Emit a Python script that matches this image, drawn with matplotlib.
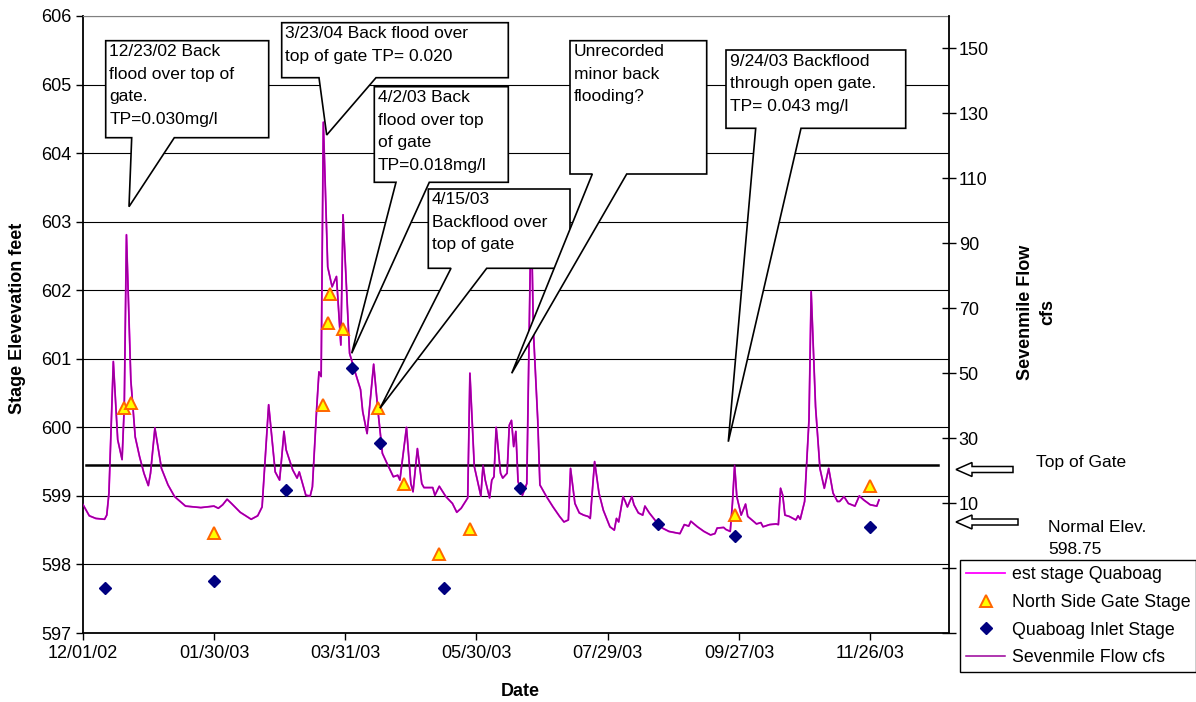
import pandas as pd
import matplotlib
matplotlib.use("Agg")
import matplotlib.pyplot as plt
import matplotlib.dates as mdates
from matplotlib.patches import Polygon

plt.rcParams['font.family'] = ['Liberation Sans', 'DejaVu Sans']

W, H = 1196, 702
start = pd.Timestamp('2002-12-01')

# days after 12/01/02 for the daily series
stage_days = [0, 3, 6, 10, 11, 12, 14, 16, 18, 19, 20, 22, 24, 26, 28, 30, 31, 33, 36, 39,
              42, 47, 54, 60, 62, 64, 66, 68, 72, 77, 80, 82, 83, 85, 88, 90, 91, 92, 93, 96,
              98, 99, 102, 104, 105, 107, 108, 109, 110, 112, 114, 116, 118, 119, 122, 124, 127, 128, 130, 133,
              135, 137, 139, 142, 144, 145, 148, 150, 151, 153, 155, 156, 160, 161, 163, 166, 169, 171, 173, 176,
              177, 179, 182, 183, 184, 186, 187, 188, 189, 191, 192, 194, 195, 196, 197, 198, 199, 200, 201, 203,
              205, 206, 208, 209, 212, 215, 218, 220, 222, 223, 225, 227, 229, 231, 232, 234, 236, 238, 241, 243,
              244, 245, 247, 248, 249, 251, 252, 254, 256, 257, 259, 261, 263, 265, 268, 273, 275, 277, 278, 281,
              284, 287, 289, 290, 293, 294, 296, 297, 298, 299, 301, 303, 304, 307, 308, 310, 311, 314, 317, 318,
              319, 320, 321, 323, 326, 327, 328, 330, 332, 333, 335, 337, 339, 341, 343, 345, 346, 348, 350, 353,
              355, 357, 360, 363, 364]

# est stage Quaboag (ft)
stage_ft = [598.88, 598.71, 598.67, 598.66, 598.72, 599.04, 600.96, 599.82, 599.53, 600.30,
            602.81, 600.69, 599.86, 599.57, 599.33, 599.15, 599.33, 599.99, 599.40, 599.16,
            598.99, 598.85, 598.83, 598.85, 598.82, 598.87, 598.95, 598.89, 598.76, 598.66,
            598.71, 598.84, 599.33, 600.33, 599.35, 599.23, 599.57, 599.94, 599.67, 599.38,
            599.26, 599.35, 599.01, 599.00, 599.13, 600.30, 600.81, 600.74, 604.45, 602.34,
            602.05, 602.20, 601.20, 603.10, 601.08, 600.86, 600.55, 600.23, 599.91, 600.92,
            600.23, 599.62, 599.48, 599.28, 599.30, 599.23, 600.00, 599.18, 599.06, 599.69,
            599.18, 599.12, 599.12, 599.01, 599.14, 598.99, 598.89, 598.76, 598.82, 598.97,
            600.79, 599.43, 599.00, 599.45, 599.23, 598.97, 599.23, 599.28, 600.00, 599.33,
            599.26, 599.33, 600.03, 600.10, 599.72, 599.94, 599.21, 599.11, 599.01, 599.18,
            603.20, 601.42, 600.11, 599.16, 598.99, 598.84, 598.70, 598.62, 598.65, 599.40,
            598.89, 598.75, 598.72, 598.70, 598.67, 599.50, 599.04, 598.79, 598.55, 598.50,
            598.67, 598.62, 598.99, 598.92, 598.84, 598.99, 598.87, 598.75, 598.72, 598.85,
            598.75, 598.67, 598.59, 598.53, 598.48, 598.45, 598.58, 598.56, 598.63, 598.55,
            598.48, 598.43, 598.45, 598.53, 598.54, 598.51, 598.48, 598.89, 599.45, 598.99,
            598.72, 598.88, 598.70, 598.62, 598.59, 598.61, 598.55, 598.58, 598.59, 598.58,
            599.11, 599.01, 598.72, 598.70, 598.65, 598.71, 598.66, 598.92, 600.11, 601.98,
            600.30, 599.40, 599.11, 599.40, 599.04, 598.92, 598.92, 598.99, 598.89, 598.85,
            599.00, 598.94, 598.87, 598.85, 598.94]

# Sevenmile Flow (cfs)
flow_cfs = [9.7, 6.1, 5.3, 5.0, 6.3, 13.1, 53.6, 29.5, 23.4, 39.7,
            92.6, 47.9, 30.4, 24.3, 19.2, 15.4, 19.2, 33.1, 20.7, 15.6,
            12.0, 9.1, 8.6, 9.1, 8.4, 9.5, 11.2, 9.9, 7.2, 5.0,
            6.1, 8.8, 19.2, 40.3, 19.6, 17.1, 24.3, 32.1, 26.4, 20.2,
            17.7, 19.6, 12.4, 12.2, 15.0, 39.7, 50.4, 49.0, 127.3, 82.7,
            76.6, 79.8, 58.7, 98.8, 56.1, 51.5, 45.0, 38.2, 31.4, 52.8,
            38.2, 25.3, 22.4, 18.1, 18.6, 17.1, 33.3, 16.0, 13.5, 26.8,
            16.0, 14.8, 14.8, 12.4, 15.2, 12.0, 9.9, 7.2, 8.4, 11.6,
            50.0, 21.3, 12.2, 21.7, 17.1, 11.6, 17.1, 18.1, 33.3, 19.2,
            17.7, 19.2, 34.0, 35.5, 27.4, 32.1, 16.7, 14.6, 12.4, 16.0,
            100.9, 63.3, 35.7, 15.6, 12.0, 8.8, 5.9, 4.2, 4.8, 20.7,
            9.9, 7.0, 6.3, 5.9, 5.3, 22.8, 13.1, 7.8, 2.7, 1.7,
            5.3, 4.2, 12.0, 10.5, 8.8, 12.0, 9.5, 7.0, 6.3, 9.1,
            7.0, 5.3, 3.6, 2.3, 1.3, 0.6, 3.4, 2.9, 4.4, 2.7,
            1.3, 0.2, 0.6, 2.3, 2.5, 1.9, 1.3, 9.9, 21.7, 12.0,
            6.3, 9.7, 5.9, 4.2, 3.6, 4.0, 2.7, 3.4, 3.6, 3.4,
            14.6, 12.4, 6.3, 5.9, 4.8, 6.1, 5.0, 10.5, 35.7, 75.1,
            39.7, 20.7, 14.6, 20.7, 13.1, 10.5, 10.5, 12.0, 9.9, 9.1,
            12.2, 11.0, 9.5, 9.1, 11.0]

# North Side Gate Stage (ft)
gate_days = [19, 22, 60, 110, 112, 113, 119, 135, 147, 163, 177, 298, 360]
gate_ft = [600.28, 600.35, 598.46, 600.33, 601.52, 601.95, 601.43, 600.28, 599.18,
           598.15, 598.51, 598.72, 599.14]

# Quaboag Inlet Stage (ft)
inlet_days = [10, 60, 93, 123, 136, 165, 200, 263, 298, 360]
inlet_ft = [597.66, 597.76, 599.08, 600.86, 599.77, 597.66, 599.11, 598.59, 598.41, 598.55]

top_of_gate = 599.45

flow_ticks = [-30, -10, 10, 30, 50, 70, 90, 110, 130, 150]
flow_tick_labels = ['', '', '10', '30', '50', '70', '90', '110', '130', '150']
date_ticks = [0, 60, 120, 180, 240, 300, 360]

callouts = [
    ((105.7, 40.7, 268.7, 137.7), (131.7, 174.3), (129, 206.7),
     ["12/23/02 Back", "flood over top of", "gate.", "TP=0.030mg/l"]),
    ((281.7, 22.7, 508.3, 77.7), (319, 376), (326.7, 135),
     ["3/23/04 Back flood over", "top of gate TP= 0.020"]),
    ((374.3, 86.7, 508.3, 182.3), (396, 429.3), (351.7, 353.3),
     ["4/2/03 Back", "flood over top", "of gate", "TP=0.018mg/l"]),
    ((428.3, 189, 570, 268.3), (451, 486.7), (380, 408.3),
     ["4/15/03", "Backflood over", "top of gate"]),
    ((570, 40.7, 706.7, 174), (592.3, 626.7), (511.7, 373.3),
     ["Unrecorded", "minor back", "flooding?"]),
    ((726, 50, 905.7, 128.3), (755.7, 801), (728.3, 441.7),
     ["9/24/03 Backflood", "through open gate.", "TP= 0.043 mg/l"]),
]


def px(x, y):
    return (x / W, 1 - y / H)


def to_dates(days):
    return start + pd.to_timedelta(days, unit='D')


fig = plt.figure(figsize=(W / 100, H / 100), dpi=100)
ax = fig.add_axes([82.7 / W, 1 - 633 / H, (949 - 82.7) / W, (633 - 16) / H])
ax2 = ax.twinx()

pink, = ax.plot(to_dates(stage_days), stage_ft, color='#FF00FF', lw=1.3,
                label='est stage Quaboag')
ax.axhline(top_of_gate, xmin=3.5 / 866, xmax=855 / 866, color='black', lw=1.8, zorder=3)

purple, = ax2.plot(to_dates(stage_days), flow_cfs, color='#9A009A', lw=1.1,
                   label='Sevenmile Flow cfs')
tri, = ax2.plot(to_dates(gate_days), gate_ft, ls='none', marker='^', ms=8,
                mfc='#FFFF00', mec='#FF6600', mew=1.4, transform=ax.transData,
                label='North Side Gate Stage', zorder=4)
dia, = ax2.plot(to_dates(inlet_days), inlet_ft, ls='none', marker='D', ms=6.5,
                mfc='#000080', mec='#000080', transform=ax.transData,
                label='Quaboag Inlet Stage', zorder=4)

ax.set_xlim(start, pd.Timestamp('2004-01-01'))
ax.set_ylim(597, 606)
ax.set_yticks(range(597, 607))
ax.set_xticks(to_dates(date_ticks))
ax.xaxis.set_major_formatter(mdates.DateFormatter('%m/%d/%y'))
ax.grid(axis='y', color='black', lw=0.8)
ax.tick_params(axis='y', direction='out', length=5, width=1, labelsize=13, pad=3)
ax.tick_params(axis='x', direction='out', length=5, width=1, labelsize=13, pad=4)

ax2.set_ylim(-30, 160)
ax2.set_yticks(flow_ticks)
ax2.set_yticklabels(flow_tick_labels)
ax2.tick_params(axis='y', direction='inout', length=10, width=1, labelsize=13, pad=2)

ax.spines['top'].set_color('#808080')
ax.spines['right'].set_visible(False)
ax.spines['left'].set_linewidth(1.3)
ax.spines['bottom'].set_linewidth(1.3)
for s in ['top', 'left', 'bottom']:
    ax2.spines[s].set_visible(False)
ax2.spines['right'].set_linewidth(1.3)

# axis titles
fig.text(*px(18, 318), 'Stage Elevevation feet', rotation=90, ha='center', va='center',
         fontsize=13, fontweight='bold')
fig.text(*px(520, 692), 'Date', ha='center', va='center', fontsize=13, fontweight='bold')
fig.text(*px(1026, 312), 'Sevenmile Flow', rotation=90, ha='center', va='center',
         fontsize=13, fontweight='bold')
fig.text(*px(1048, 312), 'cfs', rotation=90, ha='center', va='center',
         fontsize=13, fontweight='bold')

# callout balloons
for i, (box, base, tip, lines) in enumerate(callouts):
    x0, y0, x1, y1 = box
    pts = [(x0, y0), (x1, y0), (x1, y1), (base[1], y1), tip, (base[0], y1), (x0, y1)]
    fig.add_artist(Polygon([px(*p) for p in pts], closed=True, facecolor='white',
                           edgecolor='black', lw=1.2, zorder=5 + i))
    for j, t in enumerate(lines):
        fig.text(*px(x0 + 3.5, y0 + 11 + j * 22.5), t, ha='left', va='center',
                 fontsize=12.5, zorder=5 + i)

# block arrows on the right
for yc, tail in [(469.5, 1013), (522, 1018)]:
    pts = [(956, yc), (972, yc - 7), (972, yc - 3), (tail, yc - 3), (tail, yc + 3),
           (972, yc + 3), (972, yc + 7)]
    fig.add_artist(Polygon([px(*p) for p in pts], closed=True, facecolor='white',
                           edgecolor='black', lw=1.1, zorder=5))
fig.text(*px(1036, 463), 'Top of Gate', ha='left', va='center', fontsize=12.5)
fig.text(*px(1048, 527), 'Normal Elev.', ha='left', va='center', fontsize=12.5)
fig.text(*px(1048, 549), '598.75', ha='left', va='center', fontsize=12.5)

leg = fig.legend(handles=[pink, tri, dia, purple], loc='upper left',
                 bbox_to_anchor=px(960, 560), borderaxespad=0, fontsize=12.8,
                 frameon=True, fancybox=False, framealpha=1, edgecolor='black',
                 labelspacing=0.6, handlelength=2.2, handletextpad=0.35, borderpad=0.35)
leg.get_frame().set_linewidth(1.0)
leg.set_zorder(20)

fig.savefig('out.png', dpi=100)
